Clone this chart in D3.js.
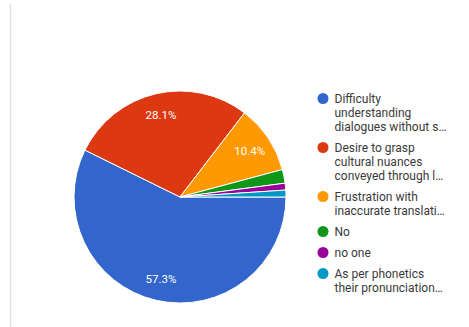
<!DOCTYPE html>
<html>
<head>
<meta charset="utf-8">
<script src="https://cdn.jsdelivr.net/npm/d3@7"></script>
<style>
  html, body { margin: 0; padding: 0; background: #ffffff; }
  svg { display: block; }
  text { font-family: Roboto, "Noto Sans", Arial, sans-serif; }
</style>
</head>
<body>
<svg id="chart" width="469" height="327"></svg>
<script>
// Survey responses (counts out of 96)
const categories = [
  "Difficulty understanding dialogues without subtitles",
  "Desire to grasp cultural nuances conveyed through language",
  "Frustration with inaccurate translations",
  "No",
  "no one",
  "As per phonetics their pronunciation"
];
const counts = [55, 27, 10, 2, 1, 1];
// Legend text as it wraps and truncates in the legend column
const legendLines = [
  ["Difficulty", "understanding", "dialogues without s…"],
  ["Desire to grasp", "cultural nuances", "conveyed through l…"],
  ["Frustration with", "inaccurate translati…"],
  ["No"],
  ["no one"],
  ["As per phonetics", "their pronunciation…"]
];
const colors = ["#3366cc", "#dc3912", "#ff9900", "#109618", "#990099", "#0099c6"];

const svg = d3.select("#chart");

// faint frame line on the left edge
svg.append("line")
  .attr("x1", 10.5).attr("x2", 10.5)
  .attr("y1", 4).attr("y2", 327)
  .attr("stroke", "#e2e2e2").attr("stroke-width", 1.5);

const cx = 180, cy = 197, r = 106;
const total = d3.sum(counts);
const data = categories.map((c, i) => ({ name: c, value: counts[i], color: colors[i] }));

const pie = d3.pie()
  .value(d => d.value)
  .sort(null)
  .startAngle(Math.PI / 2)
  .endAngle(Math.PI / 2 + 2 * Math.PI);

const arcs = pie(data);
const arc = d3.arc().innerRadius(0).outerRadius(r);
const labelArc = d3.arc().innerRadius(r * 0.79).outerRadius(r * 0.79);

const g = svg.append("g").attr("transform", `translate(${cx},${cy})`);

g.selectAll("path.slice")
  .data(arcs)
  .join("path")
  .attr("class", "slice")
  .attr("d", arc)
  .attr("fill", d => d.data.color)
  .attr("stroke", "#ffffff")
  .attr("stroke-width", 1);

const pct = d => (d.data.value / total * 100).toFixed(1) + "%";

g.selectAll("text.pct")
  .data(arcs.filter(d => d.data.value / total >= 0.05))
  .join("text")
  .attr("class", "pct")
  .attr("transform", d => `translate(${labelArc.centroid(d)})`)
  .attr("text-anchor", "middle")
  .attr("dy", "0.35em")
  .attr("fill", "#ffffff")
  .attr("font-size", "11.5px")
  .text(pct);

// Legend
const legX = 323, legY0 = 98.5, lineH = 14, itemGap = 7;
let y = legY0;
const legend = svg.append("g");
data.forEach((d, i) => {
  const item = legend.append("g");
  item.append("circle")
    .attr("cx", legX).attr("cy", y)
    .attr("r", 5.5)
    .attr("fill", d.color);
  const t = item.append("text")
    .attr("x", legX + 11.5)
    .attr("y", y)
    .attr("fill", "#3a3a3a")
    .attr("font-size", "12px");
  legendLines[i].forEach((ln, j) => {
    t.append("tspan")
      .attr("x", legX + 11.5)
      .attr("y", y + j * lineH)
      .attr("dy", "0.38em")
      .text(ln);
  });
  y += legendLines[i].length * lineH + itemGap;
});
</script>
</body>
</html>
